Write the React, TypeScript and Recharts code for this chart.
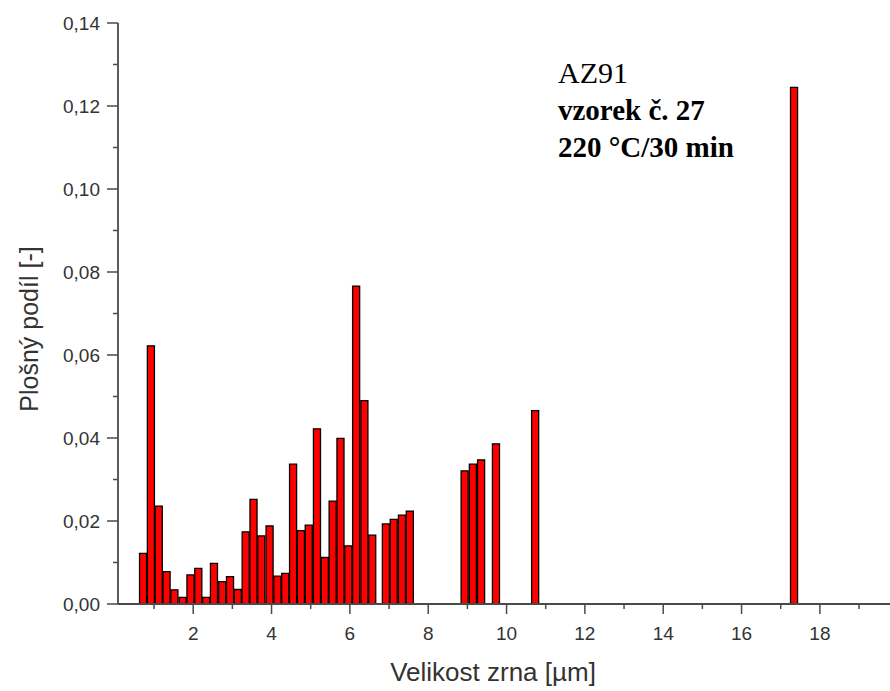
import React from "react";
import { BarChart, Bar, XAxis, YAxis } from "recharts";

// grain size class centres [µm]
const grainSize: number[] = [
  0.73, 0.93, 1.13, 1.33, 1.53, 1.74, 1.94, 2.14, 2.34, 2.54,
  2.75, 2.95, 3.15, 3.35, 3.55, 3.75, 3.96, 4.16, 4.36, 4.56,
  4.76, 4.96, 5.17, 5.37, 5.57, 5.77, 5.97, 6.17, 6.38, 6.58,
  6.93, 7.13, 7.34, 7.54,
  8.94, 9.15, 9.36, 9.74, 10.74, 17.35,
];

// area fraction [-]
const areaFraction: number[] = [
  0.0122, 0.0622, 0.0236, 0.0078, 0.0034, 0.0016, 0.007, 0.0086, 0.0016, 0.0098,
  0.0054, 0.0066, 0.0035, 0.0174, 0.0252, 0.0164, 0.0188, 0.0067, 0.0074, 0.0337,
  0.0177, 0.019, 0.0422, 0.0112, 0.0248, 0.0399, 0.014, 0.0766, 0.049, 0.0166,
  0.0193, 0.0204, 0.0214, 0.0224,
  0.0321, 0.0337, 0.0347, 0.0386, 0.0466, 0.1245,
];

const xTicks: number[] = [1, 2, 3, 4, 5, 6, 7, 8, 9, 10, 11, 12, 13, 14, 15, 16, 17, 18, 19];
const xMajor: number[] = [2, 4, 6, 8, 10, 12, 14, 16, 18];
const yTicks: number[] = [0, 0.01, 0.02, 0.03, 0.04, 0.05, 0.06, 0.07, 0.08, 0.09, 0.1, 0.11, 0.12, 0.13, 0.14];
const yMajor: number[] = [0, 0.02, 0.04, 0.06, 0.08, 0.1, 0.12, 0.14];

const annotation: string[] = ["AZ91", "vzorek č. 27", "220 °C/30 min"];
const xTitle = "Velikost zrna [µm]";
const yTitle = "Plošný podíl [-]";

const data = grainSize.map((x, i) => ({ x, v: areaFraction[i] }));

const AXIS = "#4a4a4a";
const FONT = "'Liberation Sans', Arial, sans-serif";
const SERIF = "'Liberation Serif', 'Times New Roman', serif";

const XTick = (props: any) => {
  const { x, y, payload } = props;
  const v = payload.value;
  const major = xMajor.some((m) => Math.abs(m - v) < 1e-6);
  return (
    <g>
      <line x1={x} x2={x} y1={y} y2={y + (major ? 10 : 5)} stroke={AXIS} strokeWidth={1.5} />
      {major && (
        <text x={x} y={y + 36} textAnchor="middle" fontFamily={FONT} fontSize={19} fill="#333">
          {String(v)}
        </text>
      )}
    </g>
  );
};

const YTick = (props: any) => {
  const { x, y, payload } = props;
  const v = payload.value;
  const major = yMajor.some((m) => Math.abs(m - v) < 1e-6);
  return (
    <g>
      <line x1={x - (major ? 11 : 5)} x2={x} y1={y} y2={y} stroke={AXIS} strokeWidth={1.5} />
      {major && (
        <text x={x - 18} y={y + 7} textAnchor="end" fontFamily={FONT} fontSize={19} fill="#333">
          {v.toFixed(2).replace(".", ",")}
        </text>
      )}
    </g>
  );
};

export default function App() {
  return (
    <div style={{ position: "absolute", left: 0, top: 0, width: 890, height: 691, background: "#fff" }}>
      <BarChart
        width={890}
        height={691}
        data={data}
        margin={{ top: 23, right: 0, bottom: 0, left: 0 }}
      >
        <XAxis
          dataKey="x"
          type="number"
          domain={[0.08, 19.79]}
          allowDataOverflow
          ticks={xTicks}
          interval={0}
          tick={<XTick />}
          tickSize={0}
          tickMargin={0}
          tickLine={false}
          axisLine={{ stroke: AXIS, strokeWidth: 1.8 }}
          height={87}
        />
        <YAxis
          type="number"
          domain={[0, 0.14]}
          allowDataOverflow
          ticks={yTicks}
          interval={0}
          tick={<YTick />}
          tickSize={0}
          tickMargin={0}
          tickLine={false}
          axisLine={{ stroke: AXIS, strokeWidth: 1.8 }}
          width={118}
        />
        <Bar dataKey="v" fill="#ff0000" stroke="#000" strokeWidth={1.3} barSize={8} isAnimationActive={false} />
      </BarChart>
      <svg
        width={890}
        height={691}
        style={{ position: "absolute", left: 0, top: 0, pointerEvents: "none" }}
      >
        <text x={558} y={83} fontFamily={SERIF} fontSize={30} fill="#000">
          {annotation[0]}
        </text>
        <text x={558} y={120} fontFamily={SERIF} fontSize={29} fontWeight="bold" fill="#000">
          {annotation[1]}
        </text>
        <text x={558} y={157} fontFamily={SERIF} fontSize={29} fontWeight="bold" fill="#000">
          {annotation[2]}
        </text>
        <text x={493} y={681} textAnchor="middle" fontFamily={FONT} fontSize={26} fill="#333">
          {xTitle}
        </text>
        <text
          x={29}
          y={329}
          textAnchor="middle"
          dominantBaseline="central"
          transform="rotate(-90 29 329)"
          fontFamily={FONT}
          fontSize={25}
          fill="#333"
        >
          {yTitle}
        </text>
      </svg>
    </div>
  );
}
